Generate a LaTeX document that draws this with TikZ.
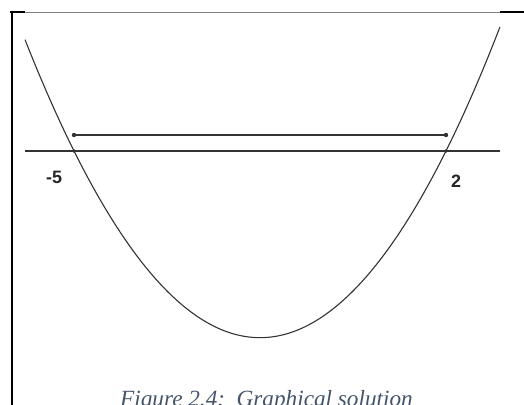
\documentclass[tikz,border=0pt]{standalone}
\usepackage{fontspec}
\setmainfont{Liberation Serif}
\newfontfamily\labelfont{Liberation Sans}
\usetikzlibrary{positioning}
\definecolor{captionblue}{HTML}{44546A}
\definecolor{curvegray}{HTML}{333333}
\tikzset{
    rootdot/.style={fill=curvegray},
    rootlabel/.style={font=\labelfont\bfseries\fontsize{18}{18}\selectfont, text=black!85},
    figcaption/.style={anchor=base, text=captionblue, font=\itshape\fontsize{23.3}{23.3}\selectfont}
}

\begin{document}
\begin{tikzpicture}[x=53.14bp, y=15.24bp]
    % Page and table frame
    \useasboundingbox (-6.393,-16.667) rectangle (3.468,9.908);
    \clip (-6.393,-16.667) rectangle (3.468,9.908);
    \draw[line width=2bp] (-6.167,-17) -- (-6.167,9.15);
    \draw[line width=1.5bp] (-6.2,9.121) -- (-5.922,9.121);
    \draw[line width=1.5bp] (3.017,9.121) -- (3.6,9.121);
    \draw[gray, line width=0.8bp] (-5.922,9.121) -- (3.017,9.121);

    % Roots
    \coordinate (rootL) at (-5,0);
    \coordinate (rootR) at (2,0);
    \coordinate (barL) at (-5,1.05);
    \coordinate (barR) at (2,1.05);

    % x-axis
    \draw[curvegray, line width=1.6bp] (-5.922,0) -- (3.017,0);

    % Parabola
    \draw[curvegray, line width=1.1bp, domain=-5.922:3.017, samples=120] plot (\x, {(\x+5)*(\x-2)});

    % Solution interval
    \draw[curvegray, line width=1.8bp] (barL) -- (barR);
    \fill[rootdot] (barL) circle (2.2bp);
    \fill[rootdot] (barR) circle (2.2bp);
    \fill[rootdot] (rootL) circle (1.8bp);
    \fill[rootdot] (rootR) circle (1.8bp);

    % Labels
    \node[rootlabel] (labelL) at (-5.376,-1.706) {-5};
    \node[rootlabel] (labelR) at (2.19,-1.97) {2};

    % Caption
    \node[figcaption] (caption) at (-1.378,-16.77) {Figure 2.4:\ \ Graphical solution};
\end{tikzpicture}
\end{document}
